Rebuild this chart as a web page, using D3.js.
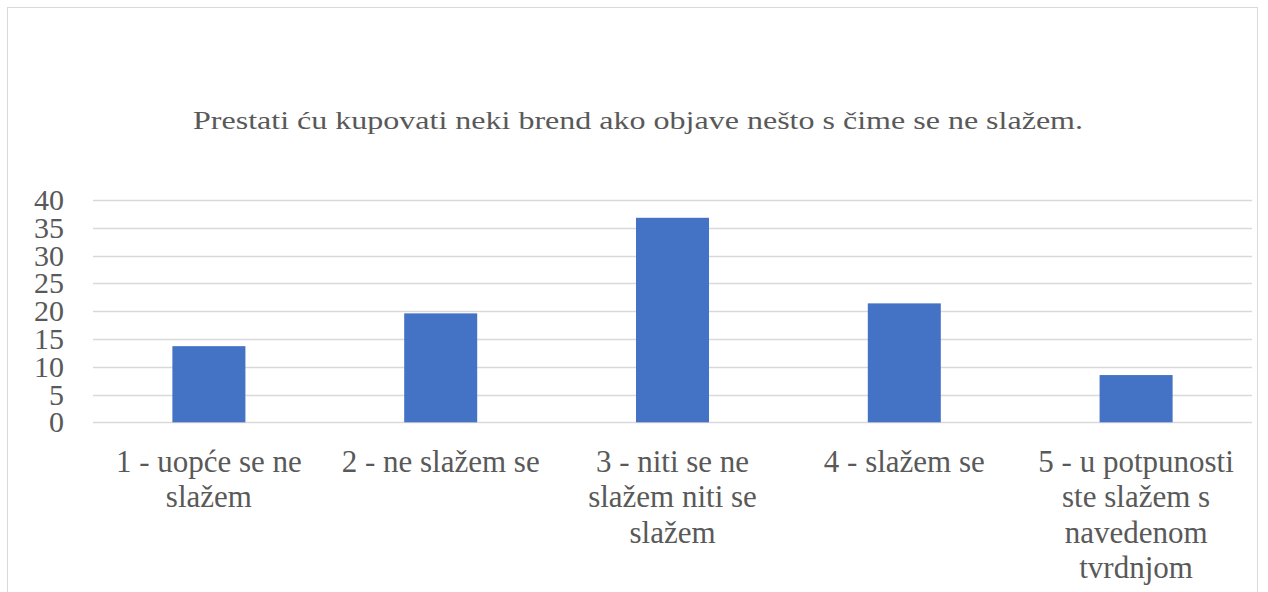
<!DOCTYPE html>
<html>
<head>
<meta charset="utf-8">
<script src="https://cdn.jsdelivr.net/npm/d3@7"></script>
<style>
  html, body { margin: 0; padding: 0; background: #fff; }
  svg { display: block; }
</style>
</head>
<body>
<div id="chart"></div>
<script>
// chart data
const title = "Prestati ću kupovati neki brend ako objave nešto s čime se ne slažem.";
const categories = [
    "1 - uopće se ne slažem",
    "2 - ne slažem se",
    "3 - niti se ne slažem niti se slažem",
    "4 - slažem se",
    "5 - u potpunosti ste slažem s navedenom tvrdnjom"
];
const values = [13.7, 19.6, 36.8, 21.4, 8.5];
const yTicks = [0, 5, 10, 15, 20, 25, 30, 35, 40];

const width = 1268, height = 592;
const margin = {top: 200, right: 16, bottom: 170, left: 93};
const textColor = '#595959';
const serif = '"Liberation Serif", "Times New Roman", serif';

const svg = d3.select('#chart').append('svg')
    .attr('width', width)
    .attr('height', height)
    .attr('font-family', serif);

// outer chart frame
svg.append('rect')
    .attr('x', 7.5).attr('y', 7.5)
    .attr('width', 1250).attr('height', 600)
    .attr('fill', 'none')
    .attr('stroke', '#d9d9d9')
    .attr('stroke-width', 1);

// title (the source picture is stretched sideways, so stretch the text too)
svg.append('text')
    .attr('x', 638)
    .attr('y', 129)
    .attr('text-anchor', 'middle')
    .attr('fill', textColor)
    .attr('font-size', 26)
    .attr('textLength', 890)
    .attr('lengthAdjust', 'spacingAndGlyphs')
    .text(title);

const x = d3.scaleBand()
    .domain(categories)
    .range([margin.left, width - margin.right])
    .paddingInner(0.685)
    .paddingOuter(0.3425);

const y = d3.scaleLinear()
    .domain([0, 40])
    .range([422.3, margin.top]);

// gridlines
svg.append('g')
    .selectAll('line')
    .data(yTicks)
    .enter()
    .append('line')
    .attr('x1', margin.left)
    .attr('x2', width - margin.right)
    .attr('y1', d => Math.round(y(d)) + 0.5)
    .attr('y2', d => Math.round(y(d)) + 0.5)
    .attr('stroke', '#d9d9d9')
    .attr('stroke-width', 1.5);

// y axis labels
const yAxis = svg.append('g')
    .attr('transform', 'translate(64,0)')
    .call(d3.axisLeft(y).tickValues(yTicks).tickSize(0).tickPadding(0))
    .attr('font-family', serif)
    .attr('font-size', 30);
yAxis.select('.domain').remove();
yAxis.selectAll('text')
    .attr('fill', textColor);

// bars
svg.selectAll('.bar')
    .data(values)
    .enter()
    .append('rect')
    .attr('class', 'bar')
    .attr('x', (d, i) => x(categories[i]))
    .attr('y', d => y(d))
    .attr('width', x.bandwidth())
    .attr('height', d => y(0) - y(d))
    .attr('fill', '#4472c4');

// category labels, wrapped to the slot width
const labelSize = 31;
const lineHeight = 35.5;
const maxW = x.step() - 20;
const labels = svg.append('g');
categories.forEach((c, i) => {
    const cx = x(c) + x.bandwidth() / 2;
    const t = labels.append('text')
        .attr('text-anchor', 'middle')
        .attr('fill', textColor)
        .attr('font-size', labelSize);
    const words = c.split(' ');
    let lines = [], line = [];
    const probe = t.append('tspan');
    words.forEach(w => {
        line.push(w);
        probe.text(line.join(' '));
        if (probe.node().getComputedTextLength() > maxW && line.length > 1) {
            line.pop();
            lines.push(line.join(' '));
            line = [w];
        }
    });
    lines.push(line.join(' '));
    probe.remove();
    lines.forEach((l, k) => {
        t.append('tspan')
            .attr('x', cx)
            .attr('y', 471.5 + k * lineHeight)
            .text(l);
    });
});
</script>
</body>
</html>
